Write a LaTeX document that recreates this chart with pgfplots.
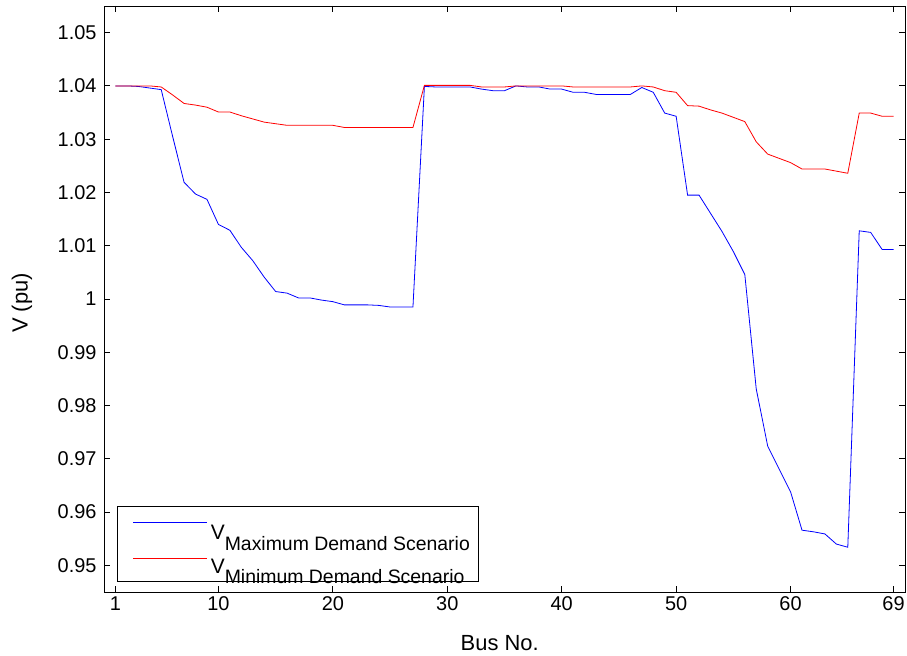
\documentclass[border=0pt]{standalone}
\usepackage{fontspec}
\setmainfont{Liberation Sans}
\usepackage{pgfplots}
\pgfplotsset{compat=1.18}
\usepackage{pgfplotstable}

\pgfplotstableread{
bus v
1 1.0400
2 1.0400
3 1.0399
4 1.0396
5 1.0393
6 1.0305
7 1.0219
8 1.0197
9 1.0187
10 1.0140
11 1.0129
12 1.0097
13 1.0072
14 1.0041
15 1.0014
16 1.0011
17 1.0002
18 1.0002
19 0.9998
20 0.9995
21 0.9989
22 0.9989
23 0.9989
24 0.9988
25 0.9985
26 0.9985
27 0.9985
28 1.0399
29 1.0398
30 1.0398
31 1.0398
32 1.0398
33 1.0394
34 1.0391
35 1.0391
36 1.0400
37 1.0398
38 1.0398
39 1.0394
40 1.0394
41 1.0388
42 1.0388
43 1.0384
44 1.0384
45 1.0384
46 1.0384
47 1.0397
48 1.0388
49 1.0349
50 1.0343
51 1.0195
52 1.0195
53 1.0161
54 1.0127
55 1.0089
56 1.0046
57 0.9831
58 0.9724
59 0.9681
60 0.9638
61 0.9566
62 0.9563
63 0.9559
64 0.9540
65 0.9534
66 1.0128
67 1.0125
68 1.0093
69 1.0093
}\maxdemand

\pgfplotstableread{
bus v
1 1.0400
2 1.0400
3 1.0400
4 1.0400
5 1.0398
6 1.0383
7 1.0367
8 1.0364
9 1.0360
10 1.0351
11 1.0351
12 1.0344
13 1.0338
14 1.0332
15 1.0329
16 1.0326
17 1.0326
18 1.0326
19 1.0326
20 1.0326
21 1.0322
22 1.0322
23 1.0322
24 1.0322
25 1.0322
26 1.0322
27 1.0322
28 1.0401
29 1.0401
30 1.0401
31 1.0401
32 1.0401
33 1.0398
34 1.0398
35 1.0398
36 1.0400
37 1.0400
38 1.0400
39 1.0400
40 1.0400
41 1.0398
42 1.0398
43 1.0398
44 1.0398
45 1.0398
46 1.0398
47 1.0400
48 1.0398
49 1.0391
50 1.0388
51 1.0363
52 1.0362
53 1.0355
54 1.0349
55 1.0341
56 1.0333
57 1.0295
58 1.0272
59 1.0264
60 1.0256
61 1.0244
62 1.0244
63 1.0244
64 1.0240
65 1.0236
66 1.0349
67 1.0349
68 1.0343
69 1.0343
}\mindemand

\begin{document}
\begin{tikzpicture}
\path[use as bounding box] (0bp,0bp) rectangle (907bp,656bp);
\begin{axis}[
  at={(104bp,64bp)}, anchor=south west,
  scale only axis,
  width=801bp, height=586bp,
  xmin=0, xmax=70,
  ymin=0.945, ymax=1.055,
  xtick={1,10,20,30,40,50,60,69},
  ytick={0.95,0.96,0.97,0.98,0.99,1,1.01,1.02,1.03,1.04,1.05},
  yticklabels={0.95,0.96,0.97,0.98,0.99,1,1.01,1.02,1.03,1.04,1.05},
  tick align=inside,
  xtick pos=both, ytick pos=both,
  major tick length=6bp,
  axis line style={line width=0.9bp},
  tick style={line width=0.9bp, black},
  /pgf/number format/assume math mode=true,
  ticklabel style={font=\fontsize{20}{24}\selectfont},
  xticklabel style={yshift=-1bp},
  yticklabel style={xshift=-4bp},
  label style={font=\fontsize{22}{26}\selectfont},
  xlabel={Bus No.},
  ylabel={V (pu)},
  xlabel style={at={(axis description cs:0.494,-0.099)}, anchor=base},
  ylabel style={at={(axis description cs:-0.1024,0.493)}, anchor=center},
  legend cell align=left,
  legend image code/.code={\path[draw=none] (0bp,4.7bp) -- (10bp,4.7bp); \draw[#1] (10bp,4.7bp) -- (84bp,4.7bp);},
  legend style={at={(rel axis cs:0.0162,0.017)}, anchor=south west,
    draw=black, line width=0.9bp, inner xsep=6bp, inner ysep=4bp,
    row sep=4bp,
    nodes={inner sep=3bp}},
]
\addplot[blue, line width=0.8bp] table[x=bus,y=v] {\maxdemand};
\addlegendentry{\raisebox{0pt}[26.3bp][21.5bp]{}{\fontsize{21}{21}\selectfont V}\raisebox{-10.5bp}{\fontsize{19.5}{20}\selectfont Maximum Demand Scenario}\hspace{5bp}}
\addplot[red, line width=0.8bp] table[x=bus,y=v] {\mindemand};
\addlegendentry{\raisebox{0pt}[21.8bp][17bp]{}{\fontsize{21}{21}\selectfont V}\raisebox{-10.5bp}{\fontsize{19.5}{20}\selectfont Minimum Demand Scenario}}
\end{axis}
\end{tikzpicture}
\end{document}
